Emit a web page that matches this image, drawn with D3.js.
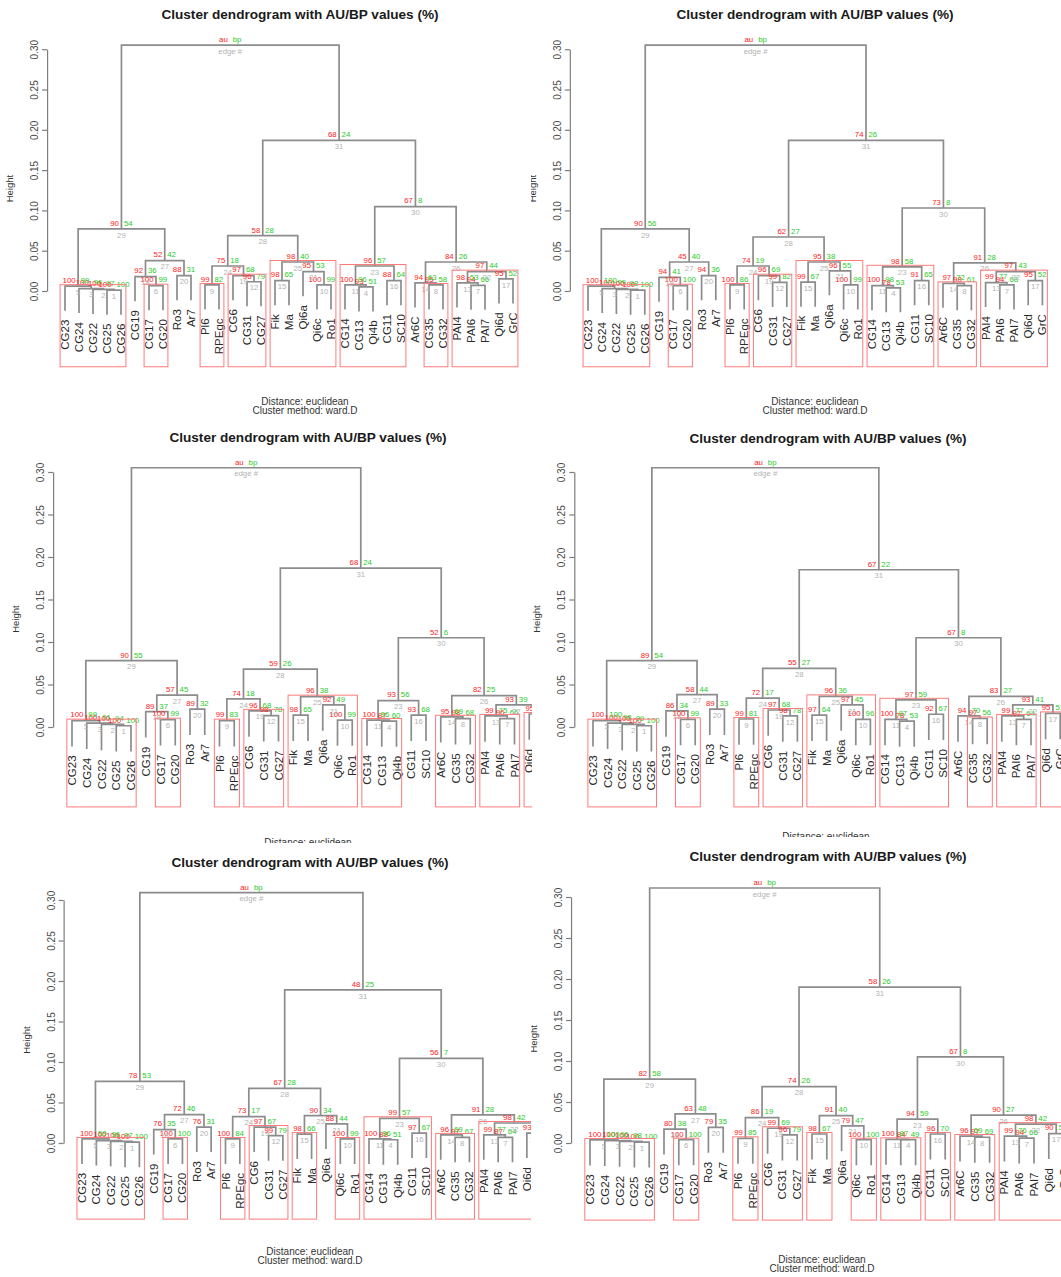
<!DOCTYPE html>
<html>
<head>
<meta charset="utf-8">
<script src="https://cdn.jsdelivr.net/npm/d3@7"></script>
<style>
  body { margin: 0; background: #fff; }
  svg { display: block; }
</style>
</head>
<body>
<svg id="chart" width="1061" height="1277"></svg>
<script>
// Leaf labels in display order
const leaves = ["CG23","CG24","CG22","CG25","CG26","CG19","CG17","CG20","Ro3","Ar7",
  "Pl6","RPEgc","CG6","CG31","CG27","Fik","Ma","Qi6a","Qi6c","Ro1",
  "CG14","CG13","Qi4b","CG11","SC10","Ar6C","CG35","CG32","PAI4","PAI6","PAI7","Qi6d","GrC"];

// Merge steps (hclust convention: negative = leaf number, positive = earlier step)
const merges = [
  [-4,-5],[-3,1],[-2,2],[-22,-23],[-1,3],[-7,-8],[-30,-31],[-27,-28],[-11,-12],[-19,-20],
  [-21,4],[-14,-15],[-29,7],[-26,8],[-16,-17],[-24,-25],[-32,-33],[-6,6],[-13,12],[-9,-10],
  [-18,10],[13,17],[11,16],[9,19],[15,21],[14,22],[18,20],[24,25],[5,27],[23,26],[28,30],[29,31]
];

// Merge heights for each of the six runs (edge 1 .. edge 32)
const heights1 = [.001,.002,.003,.005,.006,.0066,.007,.0075,.0075,.0075,.0075,.0115,.010,.010,.0128,.0128,
  .015,.0178,.019,.019,.024,.024,.031,.031,.036,.036,.0376,.0686,.077,.1046,.187,.305];
const heights2 = [.001,.002,.003,.004,.006,.0066,.0075,.0066,.0075,.0075,.0066,.0107,.0105,.0095,.011,.0128,
  .0128,.017,.019,.019,.025,.024,.030,.031,.036,.035,.036,.067,.077,.103,.187,.305];
const heights3 = [.0015,.003,.0045,.007,.0075,.0086,.0098,.0098,.0075,.0082,.0082,.0133,.013,.012,.014,.014,
  .0153,.018,.019,.021,.026,.026,.031,.033,.0357,.037,.0376,.068,.078,.105,.187,.305];
const heights4 = [.0015,.003,.0045,.007,.0075,.009,.009,.010,.0094,.009,.009,.013,.013,.013,.014,.015,
  .016,.019,.020,.021,.026,.026,.032,.034,.036,.036,.038,.069,.078,.105,.185,.305];
const heights5 = [.001,.002,.003,.004,.005,.005,.007,.007,.005,.005,.005,.009,.010,.010,.011,.0123,
  .0123,.0165,.0197,.0197,.0235,.0247,.0305,.0325,.0337,.0346,.035,.0675,.076,.1045,.189,.309];
const heights6 = [.001,.002,.003,.004,.0037,.004,.006,.007,.0057,.004,.0045,.0098,.0085,.0085,.011,.011,
  .0114,.017,.018,.019,.021,.023,.029,.031,.0333,.034,.0354,.0687,.078,.105,.19,.311];

// AU p-values (%) for edges 1 .. 31
const au1 = [100,100,100,93,100,100,94,95,99,100,100,96,98,94,98,88,95,92,97,88,95,97,96,75,98,84,52,58,90,67,68];
const au2 = [100,100,100,78,100,100,94,98,100,100,100,99,99,97,99,91,95,94,96,94,96,97,98,74,95,91,45,62,90,73,74];
const au3 = [100,100,100,87,100,100,96,98,99,100,100,98,99,95,98,93,95,89,96,89,92,93,93,74,96,82,57,59,90,52,68];
const au4 = [100,100,100,78,100,100,97,97,99,100,100,98,99,94,97,92,95,86,97,89,97,93,97,72,96,83,58,55,89,67,67];
const au5 = [100,100,100,88,100,100,87,97,100,100,100,99,99,96,98,97,93,76,97,76,88,98,99,73,90,91,72,67,78,56,48];
const au6 = [100,100,100,84,100,100,94,97,99,100,100,96,99,96,98,96,90,80,99,79,79,98,94,86,91,90,63,74,82,67,58];

// BP values (%) for edges 1 .. 31
const bp1 = [100,97,96,51,99,99,66,58,82,99,96,79,53,63,65,64,52,36,68,31,53,44,57,18,40,26,42,28,54,8,24];
const bp2 = [100,98,99,53,100,100,68,61,86,99,98,82,77,72,67,65,52,41,69,36,55,43,58,19,38,28,40,27,56,8,26];
const bp3 = [100,94,91,60,99,99,66,68,83,99,96,78,75,69,65,68,54,37,68,32,49,39,56,18,38,25,45,26,55,6,24];
const bp4 = [100,99,98,53,100,99,64,56,81,96,87,78,77,70,64,67,51,34,68,33,45,41,59,17,36,27,44,27,54,8,22];
const bp5 = [100,97,96,51,99,100,64,67,84,99,96,79,77,69,66,67,52,35,67,31,44,42,57,17,34,28,46,28,53,7,25];
const bp6 = [100,98,96,49,100,100,66,69,85,100,87,79,76,69,67,70,54,38,69,35,47,42,59,19,40,27,48,26,58,8,26];

const tickValues = [0, 0.05, 0.10, 0.15, 0.20, 0.25, 0.30];
const titleText = "Cluster dendrogram with AU/BP values (%)";
const distanceText = "Distance:  euclidean";
const methodText = "Cluster method: ward.D";

// Placement of the six dendrograms on the page
const panels = [
  { heights: heights1, au: au1, bp: bp1, clip: [0, 0, 531, 424],    x0: 65,  dx: 14.0,  y0: 291,  k: 806, titleX: 300, titleY: 19,  noteX: 305, noteY: 405 },
  { heights: heights2, au: au2, bp: bp2, clip: [531, 0, 530, 424],  x0: 588, dx: 14.2,  y0: 291,  k: 806, titleX: 815, titleY: 19,  noteX: 815, noteY: 405 },
  { heights: heights3, au: au3, bp: bp3, clip: [0, 424, 532, 419],  x0: 72,  dx: 14.75, y0: 727,  k: 850, titleX: 308, titleY: 442, noteX: 308, noteY: 846 },
  { heights: heights4, au: au4, bp: bp4, clip: [532, 424, 529, 413],x0: 593, dx: 14.6,  y0: 727,  k: 850, titleX: 828, titleY: 443, noteX: 826, noteY: 840 },
  { heights: heights5, au: au5, bp: bp5, clip: [0, 843, 531, 434],  x0: 82,  dx: 14.35, y0: 1143, k: 810, titleX: 310, titleY: 867, noteX: 310, noteY: 1255 },
  { heights: heights6, au: au6, bp: bp6, clip: [531, 837, 530, 440],x0: 590, dx: 14.8,  y0: 1143, k: 820, titleX: 828, titleY: 861, noteX: 822, noteY: 1263 }
];

const FONT = "'Liberation Sans', Arial, Helvetica, sans-serif";
const svg = d3.select("#chart");
const defs = svg.append("defs");

function drawPanel(p, idx) {
  const [cx, cy, cw, ch] = p.clip;
  defs.append("clipPath").attr("id", "clip" + idx)
    .append("rect").attr("x", cx).attr("y", cy).attr("width", cw).attr("height", ch);

  const g = svg.append("g").attr("clip-path", `url(#clip${idx})`).style("font-family", FONT);
  g.append("rect").attr("x", cx).attr("y", cy).attr("width", cw).attr("height", ch).attr("fill", "#fff");

  const n = leaves.length;
  const x = d3.scaleLinear().domain([0, n - 1]).range([p.x0, p.x0 + (n - 1) * p.dx]);
  const y = d3.scaleLinear().domain([0, 0.30]).range([p.y0, p.y0 - 0.30 * p.k]);
  const hang = 0.1 * (d3.max(p.heights) - d3.min(p.heights));

  // Build node positions from the merge table
  const nodes = [];
  const leafEnd = new Array(n);
  merges.forEach((m, j) => {
    const h = p.heights[j];
    const kids = m.map(c => {
      if (c < 0) {
        const li = -c - 1;
        leafEnd[li] = h - hang;
        return { pos: li, top: h - hang, members: [li] };
      }
      const nd = nodes[c - 1];
      return { pos: nd.pos, top: nd.h, members: nd.members };
    });
    nodes.push({
      id: j + 1, pos: (kids[0].pos + kids[1].pos) / 2, h, kids,
      members: kids[0].members.concat(kids[1].members)
    });
  });

  // Title
  g.append("text").attr("x", p.titleX).attr("y", p.titleY)
    .attr("text-anchor", "middle").attr("font-size", 13.6).attr("font-weight", "bold")
    .attr("fill", "#1a1a1a").text(titleText);

  // Y axis
  const axisX = x(-1.28);
  const axis = g.append("g").attr("transform", `translate(${axisX},0)`)
    .call(d3.axisLeft(y).tickValues(tickValues).tickSize(5).tickSizeOuter(0).tickFormat(d3.format(".2f")));
  axis.attr("font-family", FONT).attr("font-size", 10);
  axis.select(".domain").attr("stroke", "#7d7d7d").attr("stroke-width", 1.2);
  axis.selectAll(".tick line").attr("stroke", "#7d7d7d").attr("stroke-width", 1.2);
  axis.selectAll(".tick text")
    .attr("transform", "rotate(-90)").attr("text-anchor", "middle")
    .attr("x", 0).attr("y", -9).attr("dy", 0).attr("fill", "#4a4a4a");

  g.append("text")
    .attr("transform", `translate(${axisX - 34},${y(0.127)}) rotate(-90)`)
    .attr("text-anchor", "middle").attr("font-size", 9.5).attr("fill", "#333").text("Height");

  // Branches
  g.append("g").selectAll("path").data(nodes).join("path")
    .attr("d", d => `M${x(d.kids[0].pos)},${y(d.kids[0].top)}V${y(d.h)}H${x(d.kids[1].pos)}V${y(d.kids[1].top)}`)
    .attr("fill", "none").attr("stroke", "#8c8c8c").attr("stroke-width", 1.7);

  // Leaf labels
  g.append("g").selectAll("text").data(leaves).join("text")
    .attr("transform", (d, i) => `translate(${x(i)},${y(leafEnd[i]) + 9}) rotate(-90)`)
    .attr("text-anchor", "end").attr("dy", "0.35em")
    .attr("font-size", 11.5).attr("fill", "#2a2a2a").text(d => d);

  // AU / BP / edge number labels
  const lab = g.append("g").attr("font-size", 7.8);
  nodes.forEach((d, j) => {
    const isRoot = j === nodes.length - 1;
    const px = x(d.pos), py = y(d.h);
    lab.append("text").attr("x", px - 2.5).attr("y", py - 3.2).attr("text-anchor", "end")
      .attr("fill", "#ff2020").text(isRoot ? "au" : p.au[j]);
    lab.append("text").attr("x", px + 2.5).attr("y", py - 3.2).attr("text-anchor", "start")
      .attr("fill", "#1fcc1f").text(isRoot ? "bp" : p.bp[j]);
    lab.append("text").attr("x", px).attr("y", py + 8.6).attr("text-anchor", "middle")
      .attr("fill", "#b3b3b3").text(isRoot ? "edge #" : d.id);
  });

  // Boxes around the largest clusters with AU >= 95
  const marked = new Set();
  const boxes = [];
  for (let j = nodes.length - 2; j >= 0; j--) {
    if (p.au[j] >= 95) {
      const mem = nodes[j].members;
      if (!mem.some(m => marked.has(m))) {
        boxes.push({ lo: d3.min(mem), hi: d3.max(mem), h: nodes[j].h });
      }
      mem.forEach(m => marked.add(m));
    }
  }
  g.append("g").selectAll("rect").data(boxes).join("rect")
    .attr("x", d => x(d.lo - 0.35)).attr("y", d => y(d.h) - 1.5)
    .attr("width", d => x(d.hi + 0.35) - x(d.lo - 0.35))
    .attr("height", d => y(-0.094) - y(d.h) + 1.5)
    .attr("fill", "none").attr("stroke", "#ff7a7a").attr("stroke-width", 1);

  // Footnote
  g.append("text").attr("x", p.noteX).attr("y", p.noteY).attr("text-anchor", "middle")
    .attr("font-size", 10).attr("fill", "#333").text(distanceText);
  g.append("text").attr("x", p.noteX).attr("y", p.noteY + 9).attr("text-anchor", "middle")
    .attr("font-size", 10).attr("fill", "#333").text(methodText);
}

panels.forEach((p, i) => drawPanel(p, i));
</script>
</body>
</html>
